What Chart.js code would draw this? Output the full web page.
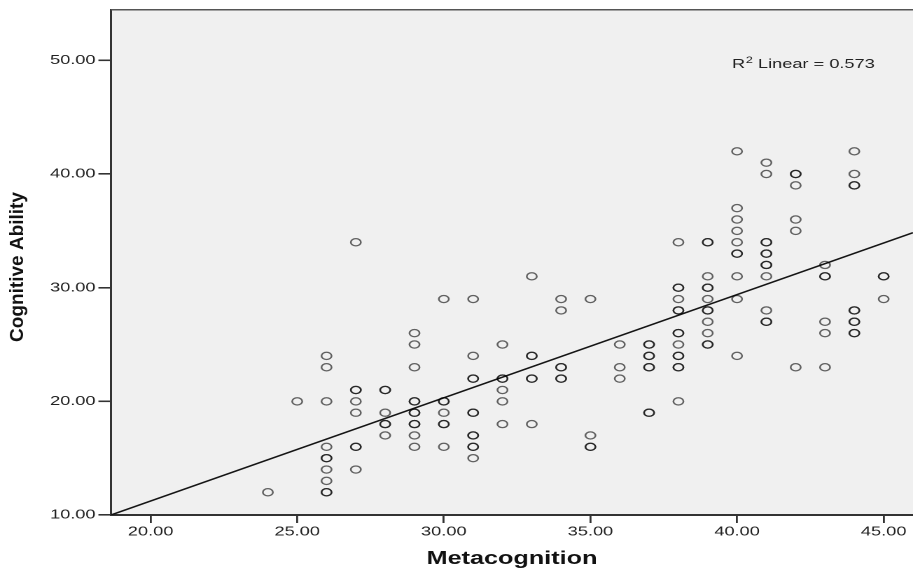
<!DOCTYPE html>
<html>
<head>
<meta charset="utf-8">
<script src="https://cdn.jsdelivr.net/npm/chart.js@4.4.1/dist/chart.umd.min.js"></script>
<style>
body{margin:0;background:#fff}
#wrap{width:913px;height:571px;overflow:hidden}
#scatter{transform:scaleX(1.4003);transform-origin:0 0}
</style>
</head>
<body>
<div id="wrap"><canvas id="scatter" width="652" height="571"></canvas></div>
<script>
// the source picture is stretched sideways, so the canvas is too
const STRETCH = 913 / 652

const metaScores = [24, 25, 26, 27, 28, 29, 30, 31, 32, 33, 34, 35, 36, 37, 38, 39, 40, 41, 42, 43, 44, 45]
const abilityScores = [
  [12],
  [20],
  [24, 23, 20, 16, 15, 15, 14, 13, 12, 12],
  [34, 21, 21, 20, 19, 16, 16, 14],
  [21, 21, 19, 18, 18, 17],
  [26, 25, 23, 20, 20, 19, 19, 18, 18, 17, 16],
  [29, 20, 20, 19, 18, 18, 16],
  [29, 24, 22, 22, 19, 19, 17, 17, 16, 16, 15],
  [25, 22, 22, 21, 20, 18],
  [31, 24, 24, 22, 22, 18],
  [29, 28, 23, 23, 22, 22],
  [29, 17, 16, 16],
  [25, 23, 22],
  [25, 25, 24, 24, 23, 23, 19, 19],
  [34, 30, 30, 29, 28, 28, 26, 26, 25, 24, 24, 23, 23, 20],
  [34, 34, 31, 30, 30, 29, 28, 28, 27, 26, 25, 25],
  [42, 37, 36, 35, 34, 33, 33, 31, 29, 24],
  [41, 40, 34, 34, 33, 33, 32, 32, 31, 28, 27, 27],
  [40, 40, 39, 36, 35, 23],
  [32, 31, 31, 27, 26, 23],
  [42, 40, 39, 39, 28, 28, 27, 27, 26, 26],
  [31, 31, 29]
]
const xTicks = [20, 25, 30, 35, 40, 45]
const yTicks = [10, 20, 30, 40, 50]
const xRange = [18.65, 46]
const yRange = [10, 54.45]
const fitSlope = 0.908
const fitIntercept = -6.93
const rSquared = 0.573

const points = []
metaScores.forEach((m, i) => abilityScores[i].forEach(a => points.push({x: m, y: a})))
const fitLine = xRange.map(x => ({x: x, y: fitIntercept + fitSlope * x}))

const plotFrame = {
  id: 'plotFrame',
  beforeDraw(chart) {
    const {ctx, chartArea: a} = chart
    ctx.save()
    ctx.fillStyle = '#f0f0f0'
    ctx.fillRect(a.left, a.top, a.right - a.left, a.bottom - a.top)
    ctx.restore()
  },
  afterDraw(chart) {
    const {ctx, chartArea: a} = chart
    ctx.save()
    ctx.strokeStyle = '#555'
    ctx.lineWidth = 1.5
    ctx.beginPath()
    ctx.moveTo(a.left, a.top)
    ctx.lineTo(a.right, a.top)
    ctx.stroke()

    // y title, squeezed back so it is not widened by the stretch
    ctx.fillStyle = '#111'
    ctx.font = 'bold 19px "Liberation Sans", Arial, sans-serif'
    ctx.textAlign = 'center'
    ctx.textBaseline = 'middle'
    ctx.translate(18 / STRETCH, 267)
    ctx.scale(1 / STRETCH, 1)
    ctx.rotate(-Math.PI / 2)
    ctx.fillText('Cognitive Ability', 0, 0)
    ctx.restore()

    // R² note
    ctx.save()
    ctx.fillStyle = '#222'
    ctx.textBaseline = 'alphabetic'
    let x = 732 / STRETCH
    const base = 68
    ctx.font = '13px "Liberation Sans", Arial, sans-serif'
    ctx.fillText('R', x, base)
    x += ctx.measureText('R').width + 0.5
    ctx.font = '9px "Liberation Sans", Arial, sans-serif'
    ctx.fillText('2', x, base - 5)
    x += ctx.measureText('2').width
    ctx.font = '13px "Liberation Sans", Arial, sans-serif'
    ctx.fillText(' Linear = ' + rSquared.toFixed(3), x, base)
    ctx.restore()
  }
}

const tickFont = {family: '"Liberation Sans", Arial, sans-serif', size: 13}

const chart = new Chart(document.getElementById('scatter'), {
  type: 'scatter',
  data: {
    datasets: [
      {
        label: 'Cognitive Ability',
        data: points,
        pointStyle: 'circle',
        pointRadius: 3.6,
        pointBorderWidth: 1.25,
        pointBackgroundColor: 'rgba(0,0,0,0)',
        pointBorderColor: 'rgba(0,0,0,0.6)'
      },
      {
        label: 'Linear fit',
        data: fitLine,
        showLine: true,
        borderColor: '#151515',
        borderWidth: 1.5,
        pointRadius: 0
      }
    ]
  },
  options: {
    responsive: false,
    animation: false,
    devicePixelRatio: 2,
    events: [],
    layout: {autoPadding: false, padding: {top: 6, right: 0, bottom: 0, left: 0}},
    plugins: {legend: {display: false}, tooltip: {enabled: false}},
    scales: {
      x: {
        type: 'linear',
        min: xRange[0],
        max: xRange[1],
        afterBuildTicks: s => { s.ticks = xTicks.map(v => ({value: v})) },
        afterFit: s => { s.height = 56 },
        ticks: {
          includeBounds: false,
          color: '#222',
          font: tickFont,
          padding: 1,
          maxRotation: 0,
          callback: v => Number(v).toFixed(2)
        },
        grid: {drawOnChartArea: false, tickLength: 8, color: '#333', lineWidth: 1.4},
        border: {color: '#333', width: 2},
        title: {
          display: true,
          text: 'Metacognition',
          color: '#111',
          font: {family: '"Liberation Sans", Arial, sans-serif', size: 18, weight: 'bold'},
          padding: {top: 0, bottom: 1}
        }
      },
      y: {
        type: 'linear',
        min: yRange[0],
        max: yRange[1],
        afterBuildTicks: s => { s.ticks = yTicks.map(v => ({value: v})) },
        afterFit: s => { s.width = 111 / STRETCH },
        ticks: {
          includeBounds: false,
          color: '#222',
          font: tickFont,
          padding: 2,
          callback: v => Number(v).toFixed(2)
        },
        grid: {drawOnChartArea: false, tickLength: 9, color: '#333', lineWidth: 1.6},
        border: {color: '#333', width: 1.5}
      }
    }
  },
  plugins: [plotFrame]
})
</script>
</body>
</html>
